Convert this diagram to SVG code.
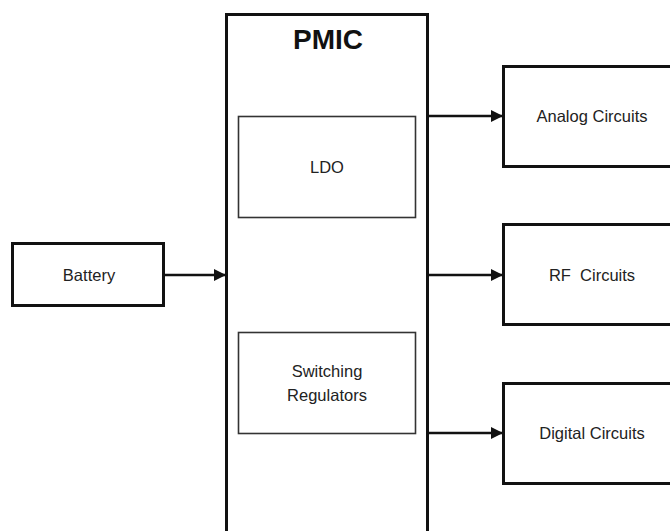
<svg xmlns="http://www.w3.org/2000/svg" width="670" height="531" viewBox="0 0 670 531">
  <style>
    .box { fill: #ffffff; stroke: #111111; stroke-width: 3; }
    .inner { fill: #ffffff; stroke: #333333; stroke-width: 1.6; }
    .lbl { font-family: "Liberation Sans", Arial, sans-serif; font-size: 16.5px; fill: #222222; text-anchor: middle; }
    .title { font-family: "Liberation Sans", Arial, sans-serif; font-size: 28px; font-weight: bold; fill: #111111; text-anchor: middle; }
    .wire { stroke: #111111; stroke-width: 2.6; fill: none; marker-end: url(#arrow); }
  </style>
  <defs>
    <marker id="arrow" viewBox="0 0 10 10" refX="10" refY="5" markerWidth="14" markerHeight="12" markerUnits="userSpaceOnUse" orient="auto">
      <path d="M0,0 L10,5 L0,10 Z" fill="#111111"/>
    </marker>
  </defs>
  <rect width="670" height="531" fill="#ffffff"/>

  <g id="pmic">
    <rect class="box" x="226.5" y="14.5" width="201" height="530"/>
    <text class="title" x="328" y="49">PMIC</text>
  </g>
  <g id="ldo">
    <rect class="inner" x="238.5" y="116.5" width="177" height="101"/>
    <text class="lbl" x="327" y="173">LDO</text>
  </g>
  <g id="switching">
    <rect class="inner" x="238.5" y="332.5" width="177" height="101"/>
    <text class="lbl" x="327" y="377">Switching</text>
    <text class="lbl" x="327" y="401">Regulators</text>
  </g>
  <g id="battery">
    <rect class="box" x="12.5" y="243.5" width="151" height="62"/>
    <text class="lbl" x="89" y="281">Battery</text>
  </g>
  <g id="analog">
    <rect class="box" x="503.5" y="66.5" width="180" height="100"/>
    <text class="lbl" x="592" y="122">Analog Circuits</text>
  </g>
  <g id="rf">
    <rect class="box" x="503.5" y="224.5" width="180" height="100"/>
    <text class="lbl" x="592" y="281" xml:space="preserve">RF  Circuits</text>
  </g>
  <g id="digital">
    <rect class="box" x="503.5" y="383.5" width="180" height="100"/>
    <text class="lbl" x="592" y="439">Digital Circuits</text>
  </g>

  <g id="connectors">
    <line class="wire" x1="164" y1="275" x2="226" y2="275"/>
    <line class="wire" x1="428" y1="116" x2="503" y2="116"/>
    <line class="wire" x1="428" y1="275" x2="503" y2="275"/>
    <line class="wire" x1="428" y1="433" x2="503" y2="433"/>
  </g>
</svg>
